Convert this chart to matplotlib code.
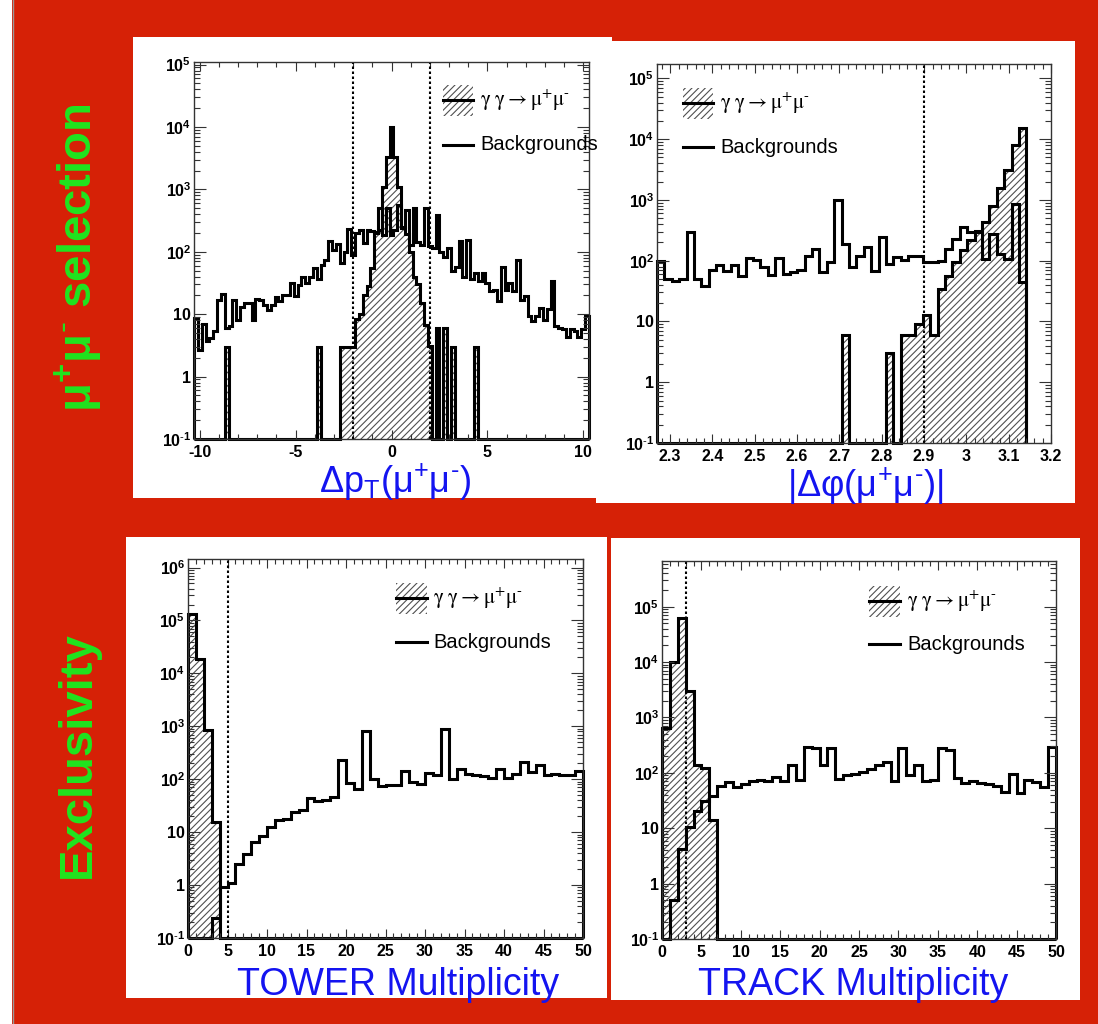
import numpy as np
import matplotlib
matplotlib.use('Agg')
from matplotlib import pyplot as plt
from matplotlib.patches import Rectangle
from matplotlib.lines import Line2D

plt.rcParams['font.family'] = ['Liberation Sans', 'DejaVu Sans']
plt.rcParams['mathtext.fontset'] = 'custom'
plt.rcParams['mathtext.rm'] = 'Liberation Sans'
plt.rcParams['mathtext.it'] = 'Liberation Sans:italic'
plt.rcParams['mathtext.bf'] = 'Liberation Sans:bold'
plt.rcParams['hatch.linewidth'] = 0.8

# ---- data (events per bin) ----

# delta pT(mu+mu-): 103 bins of 0.2 from -10.3 to 10.3
pt_edges = np.linspace(-10.3, 10.3, 104)
pt_bkg = [8.7, 2.7, 7, 3.7, 4.2, 5.4, 17, 21, 6.0, 6.4,
          17, 8.0, 13, 15, 15, 8.2, 17.6, 16.7, 14, 11.6,
          14.3, 19, 16, 20.6, 20, 31.6, 19.4, 29.7, 40, 31.6,
          40, 55, 36.6, 62, 74.5, 151, 107, 132, 66, 101,
          233, 90, 200, 220, 140, 224, 216, 211, 498, 187,
          498, 187, 224, 562, 254, 468, 129, 498, 146, 129,
          498, 122, 115, 389, 101, 84, 115, 48.5, 58, 150,
          40, 155, 36, 45.7, 33.6, 45.7, 31.6, 23.3, 24.8, 16.1,
          58, 24.8, 31.6, 23.3, 74.5, 17.1, 19.4, 9.3, 7.7, 9.3,
          12.6, 8.2, 11.9, 33.6, 6.4, 6.1, 5.7, 4.3, 5.7, 5.4,
          4.3, 5.7, 9.3]
pt_sig = [0, 0, 0, 0, 0, 0, 0, 0, 3, 0,
          0, 0, 0, 0, 0, 0, 0, 0, 0, 0,
          0, 0, 0, 0, 0, 0, 0, 0, 0, 0,
          0, 0, 3, 0, 0, 0, 0, 0, 3, 3,
          3, 3, 8.5, 10, 20, 28, 55, 200, 220, 1100,
          3300, 10000, 3300, 1100, 240, 190, 100, 40, 31, 15,
          6.8, 3.1, 0, 6, 0, 6, 0, 3, 0, 0,
          0, 0, 0, 3, 0, 0, 0, 0, 0, 0,
          0, 0, 0, 0, 0, 0, 0, 0, 0, 0,
          0, 0, 0, 0, 0, 0, 0, 0, 0, 0,
          0, 0, 0]

# |delta phi(mu+mu-)|: 1 degree bins from 130 to 180 degrees
phi_edges = np.deg2rad(np.arange(130, 181))
phi_bkg = [100, 50, 47, 50, 292, 50, 39, 70, 86, 68,
           86, 55, 109, 104, 78, 57, 109, 60, 64, 70,
           121, 155, 64, 94, 990, 188, 78, 121, 165, 68,
           241, 88, 113, 104, 120, 120, 94, 94, 100, 155,
           230, 352, 292, 306, 106, 272, 130, 106, 850, 44]
phi_sig = [0, 0, 0, 0, 0, 0, 0, 0, 0, 0,
           0, 0, 0, 0, 0, 0, 0, 0, 0, 0,
           0, 0, 0, 0, 0, 6, 0, 0, 0, 0,
           0, 3, 0, 5.9, 5.9, 9, 12.6, 5.9, 34, 56,
           94, 150, 220, 300, 430, 780, 1550, 3100, 7900, 15000]

# tower / track multiplicity: bins of 1 from 0 to 50
mult_edges = np.arange(0, 51)
tower_bkg = [0, 0, 0, 0.24, 0.9, 1.1, 2.5, 3.8, 6.5, 8.4,
             12.6, 16.8, 17.8, 24, 26, 45, 39, 41, 46.5, 229,
             85, 65, 822, 103, 74, 79, 79, 142, 89, 83,
             129, 120, 890, 103, 158, 123, 120, 117, 106, 158,
             106, 123, 214, 135, 185, 120, 123, 120, 120, 142]
tower_sig = [130000, 18600, 870, 15.6] + [0] * 46
track_bkg = [0, 0.51, 4.2, 10.5, 20.6, 31.7, 37.5, 58, 68, 55,
             63, 71, 74, 71, 85, 70, 140, 74, 299, 279,
             140, 279, 77, 90, 96, 102, 117, 140, 160, 70,
             279, 92, 140, 70, 74, 287, 260, 80, 65, 71,
             65, 62, 59, 46, 96, 43, 74, 68, 55, 291]
track_sig = [640, 10000, 62000, 3060, 140, 122, 14.2] + [0] * 43

SIG_LABEL = r'$\mathrm{\gamma\ \gamma} \rightarrow \mathrm{\mu^{+}\mu^{\text{-}}}$'
BKG_LABEL = 'Backgrounds'

RED = '#d62106'
GREEN = '#1fe51f'
BLUE = '#1414f0'
FLOOR = 0.1
W, H = 1098, 1024


def fx(x):
    return x / W


def fy(y):
    return 1 - y / H


def log_label(e):
    if e == 0:
        return '1'
    if e == 1:
        return '10'
    if e < 0:
        return r'$\mathbf{10^{\text{-}%d}}$' % -e
    return r'$\mathbf{10^{%d}}$' % e


# 畫一個ROOT風格的直方圖面板
def draw_panel(box, edges, sig, bkg, xlim, ytop, xmaj, xmin, xfmt, cuts, leg):
    l, t, r, b = box
    ax = fig.add_axes([fx(l), fy(b), fx(r) - fx(l), fy(t) - fy(b)])
    ax.set_yscale('log')

    s = np.where(np.array(sig) > 0, sig, FLOOR)
    k = np.where(np.array(bkg) > 0, bkg, FLOOR)
    ax.stairs(s, edges, baseline=FLOOR, fill=True, facecolor='none',
              edgecolor='#505050', hatch='/////', linewidth=0)
    ax.stairs(s, edges, baseline=FLOOR, color='black', lw=2.2,
              clip_on=False, joinstyle='miter')
    ax.stairs(k, edges, baseline=FLOOR, color='black', lw=2.2,
              clip_on=False, joinstyle='miter')
    for c in cuts:
        ax.axvline(c, color='black', ls=(0, (1.2, 1.2)), lw=1.5)

    ax.set_xlim(*xlim)
    ax.set_ylim(FLOOR, ytop)
    ax.set_xticks(xmaj, labels=[xfmt % v for v in xmaj],
                  fontsize=11.5, fontweight='bold')
    ax.set_xticks(xmin, minor=True)
    top_e = int(np.floor(np.log10(ytop)))
    decades = list(range(-1, top_e + 1))
    ax.set_yticks([10.0 ** e for e in decades],
                  labels=[log_label(e) for e in decades],
                  fontsize=11.5, fontweight='bold')
    ax.set_yticks([m * 10.0 ** e for e in range(-1, top_e + 1)
                   for m in range(2, 10) if m * 10.0 ** e < ytop],
                  minor=True)
    ax.yaxis.set_minor_formatter(plt.NullFormatter())
    ax.tick_params(which='both', direction='in', top=True, right=True,
                   color='#333333', width=0.8)
    ax.tick_params(axis='x', which='major', length=6.5, pad=4)
    ax.tick_params(axis='x', which='minor', length=3.5)
    ax.tick_params(axis='y', which='major', length=8.5, pad=2)
    ax.tick_params(axis='y', which='minor', length=4.5)
    for sp in ax.spines.values():
        sp.set_linewidth(1.0)
        sp.set_color('#333333')

    # 圖例 (手動放置)
    x0, x1, y0, y1, xt, yb = leg
    ym = (y0 + y1) / 2
    ax.add_patch(Rectangle((x0, y0), x1 - x0, y1 - y0, transform=ax.transAxes,
                           facecolor='none', edgecolor='#505050',
                           hatch='/////', linewidth=0))
    ax.add_line(Line2D([x0, x1], [ym, ym], color='black', lw=2.2,
                       transform=ax.transAxes))
    ax.add_line(Line2D([x0, x1], [yb, yb], color='black', lw=2.2,
                       transform=ax.transAxes))
    ax.text(xt, ym, SIG_LABEL, transform=ax.transAxes, fontsize=15,
            va='center', ha='left', math_fontfamily='stix')
    ax.text(xt, yb, BKG_LABEL, transform=ax.transAxes, fontsize=14.5,
            va='center', ha='left')
    return ax


fig = plt.figure(figsize=(W / 100, H / 100), dpi=100, facecolor=RED)

# 左邊的白色邊條和白色面板
fig.add_artist(Rectangle((0, 0), fx(12), 1, transform=fig.transFigure,
                         facecolor='white', edgecolor='none', zorder=-10))
fig.add_artist(Line2D([fx(12.5)] * 2, [0, 1], color='#999999', lw=1,
                      transform=fig.transFigure, zorder=-9))
for x0, y0, x1, y1 in [(133, 37, 612, 498), (596, 41, 1075, 503),
                       (126, 537, 607, 998), (611, 538, 1080, 1000)]:
    fig.add_artist(Rectangle((fx(x0), fy(y1)), fx(x1) - fx(x0),
                             fy(y0) - fy(y1), transform=fig.transFigure,
                             facecolor='white', edgecolor='none', zorder=-8))

draw_panel((194, 62, 589, 439), pt_edges, pt_sig, pt_bkg,
           (-10.3, 10.3), 1.1e5, [-10, -5, 0, 5, 10], np.arange(-10, 11),
           '%g', [-2, 2], (0.630, 0.706, 0.857, 0.939, 0.724, 0.780))
draw_panel((657, 64, 1051, 443), phi_edges, phi_sig, phi_bkg,
           (np.deg2rad(130), 3.2), 1.72e5, np.round(np.arange(2.3, 3.21, 0.1), 1),
           np.arange(2.28, 3.2, 0.02), '%g', [2.9],
           (0.066, 0.142, 0.855, 0.937, 0.160, 0.781))
draw_panel((188, 559, 583, 938), mult_edges, tower_sig, tower_bkg,
           (0, 50), 1.45e6, np.arange(0, 51, 5), np.arange(0, 51),
           '%d', [5], (0.527, 0.605, 0.855, 0.937, 0.620, 0.781))
draw_panel((662, 561, 1056, 939), mult_edges, track_sig, track_bkg,
           (0, 50), 6.7e5, np.arange(0, 51, 5), np.arange(0, 51),
           '%d', [3], (0.525, 0.604, 0.852, 0.934, 0.622, 0.780))

# 藍色的軸標題
fig.text(fx(395), fy(482), r'$\mathrm{Δp_{T}(μ^{+}μ^{\text{-}})}$', color=BLUE,
         fontsize=26, ha='center', va='center')
fig.text(fx(865), fy(486), r'$\mathrm{|Δφ(μ^{+}μ^{\text{-}})|}$', color=BLUE,
         fontsize=26, ha='center', va='center')
fig.text(fx(398), fy(985), 'TOWER Multiplicity', color=BLUE,
         fontsize=27, ha='center', va='center')
fig.text(fx(853), fy(985), 'TRACK Multiplicity', color=BLUE,
         fontsize=27, ha='center', va='center')

# 綠色的列標題
fig.text(fx(78), fy(258), r'$\mathbf{μ^{+}μ^{\text{-}}}$ selection', color=GREEN,
         fontsize=34, fontweight='bold', rotation=90, ha='center', va='center')
fig.text(fx(78), fy(755), 'Exclusivity', color=GREEN, fontsize=34,
         fontweight='bold', rotation=90, ha='center', va='center')

fig.savefig('out.png', dpi=100, facecolor=RED)
